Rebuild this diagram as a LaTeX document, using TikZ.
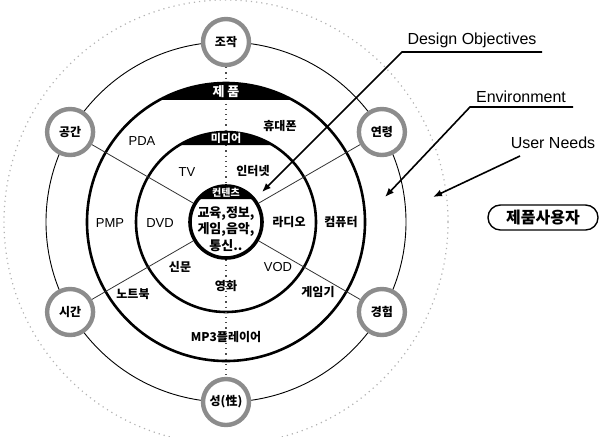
\documentclass[tikz,border=0pt]{standalone}
\usepackage{fontspec}
\setmainfont{Liberation Sans}
\newfontfamily\kr{Noto Sans CJK KR}
\usetikzlibrary{arrows.meta}
\begin{document}
\begin{tikzpicture}[x=0.5pt,y=-0.5pt,
  sat/.style={circle,draw=black!45,line width=2.2pt,fill=white,minimum size=23pt,inner sep=0pt,font=\kr\bfseries\fontsize{6}{7}\selectfont},
  lbl/.style={font=\fontsize{6.5}{7.5}\selectfont,inner sep=1pt},
  klbl/.style={font=\kr\bfseries\fontsize{6}{7}\selectfont,inner sep=1pt},
  band/.style={text=white,font=\kr\bfseries\fontsize{5.5}{6}\selectfont,inner sep=0pt},
  spoke/.style={line width=0.4pt,black!80},
  vspoke/.style={line width=0.6pt,dotted,black!70},
  callout/.style={line width=0.8pt,-{Latex[length=4.5pt,width=3.5pt]}},
  ann/.style={font=\fontsize{8}{9}\selectfont,inner sep=1pt}
]
\useasboundingbox (0,0) rectangle (600,436);
\clip (0,0) rectangle (600,436);
\coordinate (C) at (226,222);
% faint outer ring
\draw[black!30,dotted,line width=0.6pt] (C) circle[radius=222];
% ring through the satellites
\draw[line width=0.45pt] (C) circle[radius=180];
% product and media circles
\draw[line width=1.3pt] (C) circle[radius=139];
\draw[line width=1.3pt] (C) circle[radius=90];
% core
\node[circle,draw,line width=1.8pt,minimum size=36pt,inner sep=0pt] (core) at (C) {};
% satellites
\node[sat] (jojak) at (226,42) {조작};
\node[sat] (yeon) at (381.9,132) {연령};
\node[sat] (gyeong) at (381.9,312) {경험};
\node[sat] (seong) at (226,402) {성(性)};
\node[sat] (sigan) at (70.1,312) {시간};
\node[sat] (gong) at (70.1,132) {공간};
% spokes
\draw[vspoke] (jojak) -- (core);
\draw[vspoke] (core) -- (seong);
\draw[spoke] (gong) -- (core);
\draw[spoke] (yeon) -- (core);
\draw[spoke] (sigan) -- (core);
\draw[spoke] (gyeong) -- (core);
% bands
\fill (C) ++(-118.6:139) arc[start angle=-118.6,end angle=-61.4,radius=139] -- cycle;
\fill (C) ++(-121.2:90) arc[start angle=-121.2,end angle=-58.8,radius=90] -- cycle;
\fill (C) ++(-140.3:36) arc[start angle=-140.3,end angle=-39.7,radius=36] -- cycle;
\node[band,font=\kr\bfseries\fontsize{6.5}{7}\selectfont] (bp) at (226,92) {제 품};
\node[band] (bm) at (226,138.5) {미디어};
\node[band,font=\kr\bfseries\fontsize{5}{6}\selectfont] (bc) at (226,193) {컨텐츠};
% product ring labels
\node[lbl] (pda) at (142,141) {PDA};
\node[klbl] (hyudae) at (280,126) {휴대폰};
\node[lbl] (pmp) at (110,223) {PMP};
\node[klbl] (comp) at (341,222) {컴퓨터};
\node[klbl] (note) at (133,294) {노트북};
\node[klbl] (game) at (318,292) {게임기};
\node[klbl] (mp3) at (226,337) {MP3플레이어};
% media ring labels
\node[lbl] (tv) at (187,172) {TV};
\node[klbl] (inet) at (253,171) {인터넷};
\node[lbl] (dvd) at (160,223) {DVD};
\node[klbl] (radio) at (289,222) {라디오};
\node[klbl] (news) at (180,267) {신문};
\node[lbl] (vod) at (278,267) {VOD};
\node[klbl] (movie) at (226,286) {영화};
% contents
\node[klbl,font=\kr\bfseries\fontsize{6.5}{8.2}\selectfont,align=center] (cont) at (226,229) {교육,정보,\\게임,음악,\\통신..};
% annotations
\node[ann,anchor=south] (do) at (472,50) {Design Objectives};
\coordinate (do1) at (542,52);
\coordinate (do2) at (402,52);
\coordinate (doT) at (262,192);
\draw[callout] (do1) -- (do2) -- (doT);
\node[ann,anchor=south] (env) at (521,105) {Environment};
\coordinate (en1) at (573,107);
\coordinate (en2) at (470,107);
\coordinate (enT) at (385,197);
\draw[callout] (en1) -- (en2) -- (enT);
\node[ann] (un) at (553,143) {User Needs};
\coordinate (un1) at (520,156);
\coordinate (unT) at (433,197);
\draw[callout] (un1) -- (unT);
\node[draw,line width=0.7pt,rounded corners=6.2pt,minimum width=55pt,minimum height=12.5pt,inner sep=1pt,font=\kr\bfseries\fontsize{8}{9}\selectfont] (user) at (543,217.5) {제품사용자};
\end{tikzpicture}
\end{document}
